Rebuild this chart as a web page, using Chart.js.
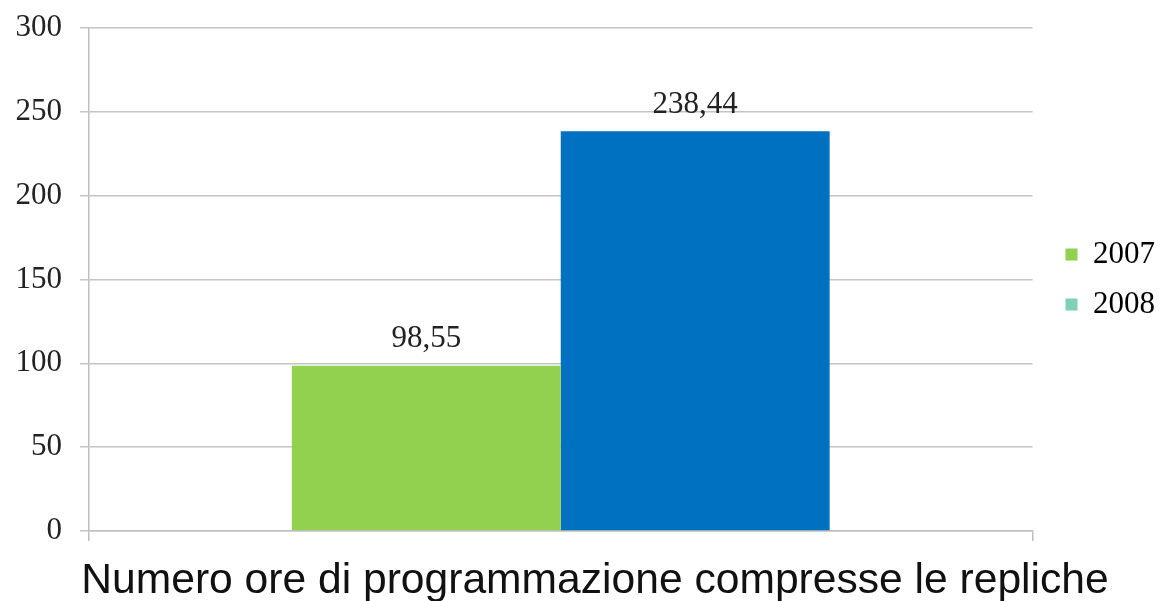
<!DOCTYPE html>
<html>
<head>
<meta charset="utf-8">
<script src="https://cdn.jsdelivr.net/npm/chart.js@4/dist/chart.umd.min.js"></script>
<style>
  html, body { margin: 0; padding: 0; background: #ffffff; }
  #wrap { width: 1164px; height: 601px; position: relative; }
</style>
</head>
<body>
<div id="wrap"><canvas id="c" width="1164" height="601"></canvas></div>
<script>
const categories = ['Numero ore di programmazione compresse le repliche'];
const seriesNames = ['2007', '2008'];
const values2007 = [98.55];
const values2008 = [238.44];
const barColors = ['#92D050', '#0070C0'];
const legendColors = ['#92D050', '#7FCFBA'];
const yTicks = [0, 50, 100, 150, 200, 250, 300];

const serif = '"Liberation Serif", "Times New Roman", serif';
const sans = '"Liberation Sans", Arial, sans-serif';

const valueLabels = {
  id: 'valueLabels',
  afterDatasetsDraw(chart) {
    const ctx = chart.ctx;
    ctx.save();
    ctx.font = '31px ' + serif;
    ctx.fillStyle = '#222';
    ctx.textAlign = 'center';
    ctx.textBaseline = 'bottom';
    chart.data.datasets.forEach((ds, i) => {
      const meta = chart.getDatasetMeta(i);
      meta.data.forEach((bar, j) => {
        const v = ds.data[j];
        ctx.fillText(v.toFixed(2).replace('.', ','), bar.x, bar.y - 11);
      });
    });
    ctx.restore();
  }
};

const categoryTitle = {
  id: 'categoryTitle',
  afterDraw(chart) {
    const ctx = chart.ctx;
    ctx.save();
    ctx.font = '42.6px ' + sans;
    ctx.fillStyle = '#111';
    ctx.textAlign = 'center';
    ctx.textBaseline = 'alphabetic';
    ctx.fillText(chart.data.labels[0], chart.width / 2 + 13, chart.height - 8);
    ctx.restore();
  }
};

const legendShift = {
  id: 'legendShift',
  afterLayout(chart) {
    if (chart.legend) {
      chart.legend.left += 14;
      chart.legend.right += 14;
    }
  }
};

new Chart(document.getElementById('c'), {
  type: 'bar',
  data: {
    labels: categories,
    datasets: [
      { label: seriesNames[0], data: values2007, backgroundColor: barColors[0], borderWidth: 0 },
      { label: seriesNames[1], data: values2008, backgroundColor: barColors[1], borderWidth: 0 }
    ]
  },
  options: {
    responsive: false,
    animation: false,
    events: [],
    layout: { padding: { left: 0, right: 13, top: 28, bottom: 0 } },
    datasets: { bar: { categoryPercentage: 0.57, barPercentage: 1.0 } },
    scales: {
      x: {
        offset: true,
        grid: { offset: true, drawOnChartArea: false, drawTicks: true, tickLength: 10, color: '#bfbfbf', lineWidth: 1.5 },
        border: { display: true, color: '#bfbfbf', width: 1.5 },
        ticks: { display: false },
        afterFit(scale) { scale.height = 70; }
      },
      y: {
        min: 0, max: 300,
        afterBuildTicks(scale) { scale.ticks = yTicks.map(v => ({ value: v })); },
        grid: { color: '#c4c4c4', lineWidth: 1.5, tickLength: 9 },
        border: { display: true, color: '#bfbfbf', width: 1.5 },
        ticks: { padding: 18, color: '#222', font: { family: serif, size: 31 } },
        afterFit(scale) { scale.width = 89; scale.paddingTop = 0; scale.paddingBottom = 0; }
      }
    },
    plugins: {
      tooltip: { enabled: false },
      title: { display: false },
      legend: {
        position: 'right',
        fullSize: false,
        labels: {
          boxWidth: 12, boxHeight: 12, padding: 19,
          color: '#222',
          font: { family: serif, size: 31 },
          generateLabels(chart) {
            return chart.data.datasets.map((ds, i) => ({
              text: ds.label,
              fillStyle: legendColors[i],
              strokeStyle: legendColors[i],
              lineWidth: 0,
              hidden: false,
              datasetIndex: i
            }));
          }
        }
      }
    }
  },
  plugins: [valueLabels, categoryTitle, legendShift]
});
</script>
</body>
</html>
